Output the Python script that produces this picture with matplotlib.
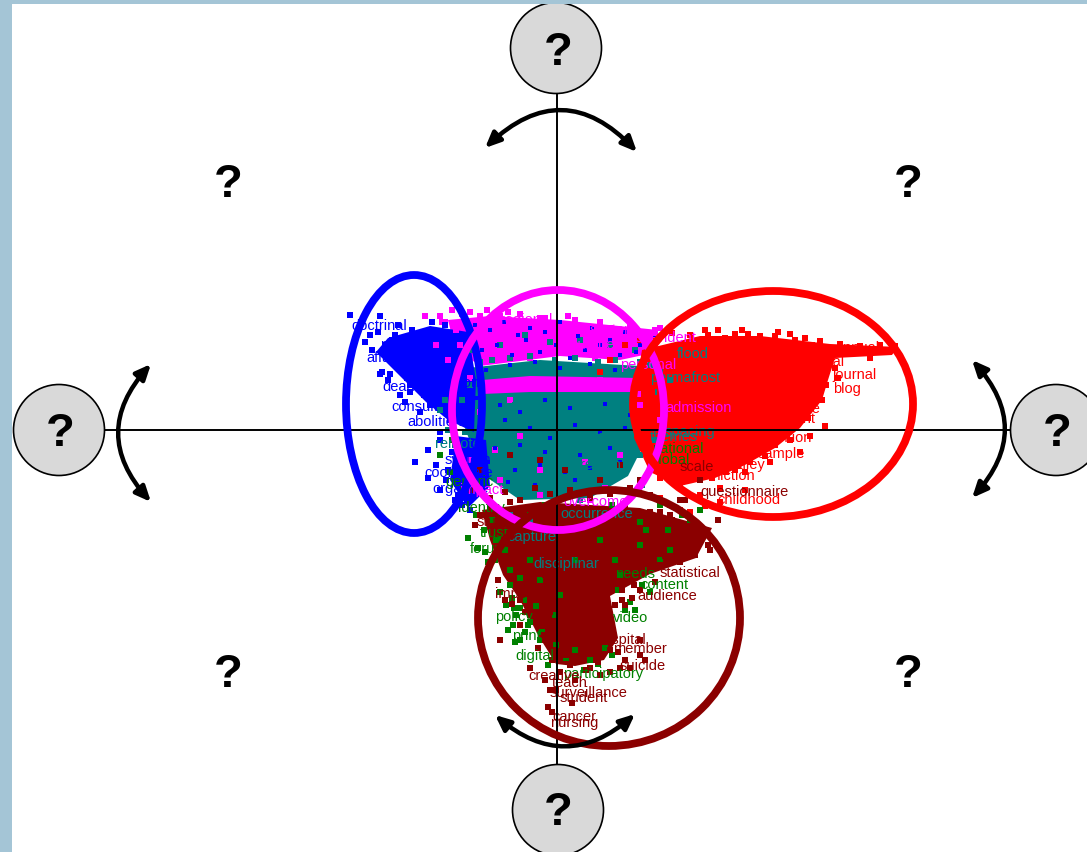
import matplotlib
matplotlib.use("Agg")
import matplotlib.pyplot as plt
from matplotlib.patches import Ellipse, Circle, FancyArrowPatch, Rectangle

plt.rcParams["font.family"] = ["Liberation Sans", "DejaVu Sans"]

# everything, in picture units (y down)
CENTER = (557, 430)
BLUE, MAGENTA, RED, DARK, GREEN, TEAL = "#0000FF", "#FF00FF", "#FF0000", "#8B0000", "#008000", "#008080"

# outlines of the areas where the marks merge into a solid mass
red_mass_x = [642, 700, 760, 830, 898, 892, 835, 828, 822, 800, 775, 745, 715, 680, 650, 634, 636]
red_mass_y = [350, 336, 336, 344, 347, 355, 358, 380, 400, 428, 448, 465, 478, 486, 472, 438, 385]
teal_mass_x = [468, 540, 640, 652, 640, 628, 590, 520, 482, 462]
teal_mass_y = [368, 360, 366, 410, 452, 476, 498, 500, 474, 420]
mag_mass_x = [448, 490, 560, 658, 658, 620, 560, 480, 455]
mag_mass_y = [320, 316, 320, 330, 352, 360, 356, 366, 348]
mag_band_x = [482, 530, 640, 640, 530, 482]
mag_band_y = [380, 376, 378, 392, 392, 394]
blue_mass_x = [388, 430, 468, 476, 474, 448, 426, 410, 394, 376]
blue_mass_y = [338, 326, 332, 380, 432, 420, 402, 386, 370, 352]
blue2_mass_x = [456, 486, 490, 468, 450]
blue2_mass_y = [436, 440, 486, 508, 480]
dark_mass_x = [482, 540, 640, 712, 696, 650, 610, 618, 604, 575, 556, 538, 520, 503, 490]
dark_mass_y = [510, 502, 508, 528, 558, 574, 596, 638, 660, 666, 664, 635, 600, 575, 540]

# single marks around the masses
blue_x = [350, 380, 365, 372, 392, 360, 380, 390, 388, 382, 400, 410, 405, 420, 430, 424, 415, 428, 440, 455, 462, 448,
          378, 385, 370, 395, 388, 402, 392, 410, 420, 398, 412, 432, 445, 440, 452, 436, 428, 446, 458, 470, 440, 450]
blue_y = [315, 316, 342, 350, 340, 325, 374, 374, 380, 372, 395, 385, 402, 412, 405, 395, 462, 478, 490, 500, 505, 470,
          332, 345, 335, 335, 358, 370, 350, 392, 382, 325, 330, 322, 325, 440, 452, 465, 450, 480, 495, 510, 432, 420]
blue_speck_x = [475, 490, 504, 518, 530, 545, 560, 578, 592, 610, 625, 640, 655, 482, 497, 512, 526, 540, 556, 570, 585, 600, 620, 636,
                486, 510, 535, 560, 590, 615, 476, 500, 520, 545, 570, 605, 630, 480, 505, 530, 550, 575, 600, 625, 470, 495, 520, 545, 580, 610,
                488, 515, 540, 565, 590, 620, 478, 508, 535, 575]
blue_speck_y = [325, 330, 322, 335, 328, 332, 322, 336, 328, 340, 332, 345, 338, 350, 345, 355, 340, 352, 345, 358, 350, 345, 355, 352,
                370, 365, 362, 368, 364, 370, 398, 405, 412, 400, 408, 404, 415, 425, 420, 428, 438, 425, 432, 428, 440, 448, 445, 452, 455, 448,
                462, 470, 465, 472, 468, 462, 478, 482, 485, 480]
magenta_x = [425, 440, 445, 452, 462, 470, 480, 487, 500, 520, 545, 575, 600, 630, 655, 436, 448, 470, 490, 512,
             530, 575, 600, 620, 638, 510, 520, 495, 480, 540, 585, 620, 640, 660, 605, 470, 500, 540, 590,
             442, 456, 475, 495, 508, 525, 540, 555, 568, 585, 610, 625, 645, 660, 460, 478, 500, 530, 550, 595, 615, 650]
magenta_y = [316, 316, 322, 310, 314, 312, 316, 310, 316, 314, 318, 320, 322, 326, 330, 345, 360, 378, 385, 385,
             388, 382, 380, 386, 394, 400, 436, 450, 412, 470, 462, 455, 405, 420, 488, 460, 480, 495, 500,
             322, 330, 325, 326, 312, 326, 318, 326, 316, 332, 328, 336, 340, 328, 345, 358, 354, 358, 352, 358, 360, 352]
red_x = [640, 655, 672, 690, 705, 718, 735, 748, 760, 775, 790, 805, 820, 840, 860, 880, 895, 650, 668, 700, 720,
         745, 770, 800, 690, 710, 735, 765, 790, 810, 825, 660, 680, 700, 730, 755, 780, 800, 815, 690, 715, 740, 765, 785,
         700, 730, 700, 720, 745, 650, 665, 680, 640, 660, 670, 680, 690, 705, 725, 640, 625, 610, 600,
         708, 725, 742, 756, 778, 795, 812, 830, 850, 870, 820, 835, 826, 838, 812, 822, 800, 808, 790, 782, 775, 760, 750, 738, 726, 712,
         692, 680, 660, 748, 770, 790, 765, 742, 720, 700, 780, 805]
red_y = [335, 340, 333, 335, 330, 330, 334, 334, 336, 336, 334, 338, 341, 344, 346, 345, 346, 468, 478, 480, 488,
         472, 462, 452, 462, 452, 470, 456, 440, 436, 426, 392, 404, 372, 352, 362, 372, 378, 385, 412, 405, 425, 400, 418,
         440, 438, 495, 502, 490, 450, 462, 488, 420, 498, 505, 510, 512, 506, 510, 340, 345, 360, 372,
         335, 338, 330, 342, 332, 340, 345, 362, 352, 358, 372, 368, 385, 378, 392, 400, 405, 418, 425, 432, 445, 452, 462, 466, 472, 478,
         478, 486, 478, 440, 425, 428, 398, 412, 395, 378, 412, 392]
dark_x = [475, 482, 490, 510, 530, 560, 590, 625, 650, 672, 690, 705, 718, 710, 660, 640, 625, 655, 600, 570, 545, 520, 505,
          498, 530, 555, 570, 590, 610, 625, 640, 600, 575, 545, 550, 548, 552, 556, 572, 590, 530, 520, 560, 500, 470, 640, 700,
          480, 510, 540, 565, 600, 620, 680, 500, 600, 640,
          512, 525, 540, 548, 562, 578, 592, 605, 615, 622, 632, 538, 552, 566, 582, 596, 608, 618, 630, 645, 528, 544, 560, 575, 590,
          648, 660, 672, 684, 696, 708, 665, 680, 695, 655, 670, 685, 610, 622, 634, 620, 610, 598, 586, 574, 562, 550,
          490, 505, 520, 535, 550, 570, 590, 610, 630, 650, 480, 500, 520, 545, 600, 625]
dark_y = [525, 515, 508, 502, 530, 555, 520, 505, 512, 520, 528, 535, 520, 550, 565, 590, 605, 582, 612, 625, 640, 625, 600,
          580, 615, 650, 665, 642, 650, 660, 655, 675, 680, 680, 690, 707, 712, 690, 703, 668, 668, 600, 620, 640, 490, 480, 480,
          470, 455, 460, 470, 480, 465, 500, 510, 620, 640,
          604, 612, 598, 630, 640, 630, 622, 612, 605, 600, 598, 648, 660, 655, 645, 660, 640, 652, 668, 660, 590, 635, 672, 660, 654,
          520, 512, 540, 525, 548, 545, 556, 562, 555, 530, 515, 500, 580, 590, 585, 668, 672, 662, 670, 640, 625, 612,
          498, 492, 500, 488, 494, 490, 498, 494, 488, 495, 515, 530, 560, 575, 578, 575]
green_x = [468, 478, 485, 488, 495, 510, 506, 514, 520, 513, 508, 515, 520, 525, 530, 540, 555, 548, 575, 590, 605, 625, 642, 660,
           668, 682, 700, 640, 615, 620, 600, 575, 560, 540, 530, 505, 496, 492, 450, 462, 476, 440, 452, 530, 545, 590, 612, 640,
           484, 498, 510, 520, 500, 512, 524, 536, 516, 528, 542, 556, 566, 584, 598, 612, 630, 650, 670, 690, 646, 660, 635, 618]
green_y = [538, 548, 552, 562, 560, 585, 605, 608, 608, 625, 630, 642, 640, 632, 622, 640, 615, 665, 650, 660, 648, 610, 585, 560,
           530, 515, 510, 522, 560, 575, 540, 560, 595, 580, 560, 550, 540, 520, 472, 490, 515, 455, 440, 515, 505, 525, 505, 545,
           530, 540, 570, 578, 592, 598, 600, 606, 615, 625, 632, 645, 658, 670, 664, 655, 602, 592, 550, 520, 530, 505, 610, 590]
teal_x = [470, 480, 500, 525, 550, 580, 610, 635, 650, 660, 670, 655, 440, 448, 455, 462, 470, 515, 640, 650, 580, 510, 530, 625, 642,
          462, 470, 480, 492, 510, 530, 555, 575, 598, 615, 640, 658, 465, 452, 445]
teal_y = [350, 362, 345, 335, 342, 340, 345, 350, 365, 372, 380, 440, 410, 430, 445, 462, 475, 405, 455, 470, 500, 515, 520, 490, 485,
          400, 385, 368, 360, 358, 356, 360, 358, 362, 360, 362, 392, 432, 420, 400]

blue_words = ["doctrinal", "affair", "legitimate", "deadly", "consult", "abolition", "coordinate", "organize", "party", "system", "coalition"]
blue_word_x = [351, 366, 403, 382, 391, 407, 424, 432, 380, 445, 425]
blue_word_y = [326, 358, 377, 387, 407, 422, 473, 489, 345, 460, 383]
magenta_words = ["independent", "personal", "admission", "overcome", "impact", "regional", "culture", "sector"]
magenta_word_x = [615, 620, 665, 563, 460, 500, 570, 590]
magenta_word_y = [338, 365, 408, 502, 490, 320, 345, 330]
teal_words = ["general", "sphere", "flood", "permafrost", "spacing", "themes", "disciplinar", "occurrence", "capture", "region", "remote"]
teal_word_x = [563, 575, 677, 650, 665, 650, 533, 560, 507, 580, 435]
teal_word_y = [415, 437, 354, 378, 432, 437, 564, 514, 537, 465, 444]
red_words = ["annual", "journal", "blog", "suitable", "talent", "attention", "sample", "valley", "fiction", "childhood", "mental"]
red_word_x = [835, 832, 833, 770, 780, 755, 758, 728, 717, 717, 800]
red_word_y = [348, 375, 389, 409, 419, 438, 454, 465, 476, 500, 362]
dark_words = ["questionnaire", "scale", "statistical", "audience", "surveillance", "student", "nursing", "cancer", "teach", "creative",
              "member", "suicide", "import", "study", "trust", "hospital"]
dark_word_x = [700, 680, 660, 637, 550, 560, 550, 552, 552, 528, 613, 620, 495, 477, 670, 595]
dark_word_y = [492, 467, 573, 596, 693, 698, 723, 717, 683, 676, 649, 666, 594, 522, 528, 640]
green_words = ["forum", "video", "digital", "participatory", "policy", "trust", "national", "global", "identity", "needs", "content", "print", "generic"]
green_word_x = [470, 613, 515, 563, 495, 480, 652, 650, 458, 615, 640, 512, 445]
green_word_y = [549, 618, 656, 674, 617, 533, 449, 460, 508, 574, 585, 636, 482]

corner_x = [228, 908, 228, 908]
corner_y = [185, 185, 675, 675]
circle_x = [556, 59, 1056, 558]
circle_y = [48, 430, 430, 810]
q_x = [558, 60, 1057, 558]
q_y = [53, 434, 434, 813]

fig = plt.figure(figsize=(10.87, 8.52), dpi=100, facecolor="#A4C5D6")
ax = fig.add_axes([12 / 1087, 0, 1 - 12 / 1087, 1 - 4 / 852])
ax.set_xlim(12, 1087)
ax.set_ylim(852, 4)
ax.axis("off")
ax.add_patch(Rectangle((12, 4), 1075, 848, color="white", zorder=0))

# solid masses
ax.fill(teal_mass_x, teal_mass_y, color=TEAL, lw=0, zorder=1)
ax.fill(mag_mass_x, mag_mass_y, color=MAGENTA, lw=0, zorder=1)
ax.fill(mag_band_x, mag_band_y, color=MAGENTA, lw=0, zorder=2)
ax.fill(blue_mass_x, blue_mass_y, color=BLUE, lw=0, zorder=1)
ax.fill(blue2_mass_x, blue2_mass_y, color=BLUE, lw=0, zorder=1)
ax.fill(red_mass_x, red_mass_y, color=RED, lw=0, zorder=2)
ax.fill(dark_mass_x, dark_mass_y, color=DARK, lw=0, zorder=2)

# marks
ax.scatter(magenta_x, magenta_y, s=18, marker="s", color=MAGENTA, linewidths=0, zorder=3)
ax.scatter(teal_x, teal_y, s=16, marker="s", color=TEAL, linewidths=0, zorder=3)
ax.scatter(blue_x, blue_y, s=16, marker="s", color=BLUE, linewidths=0, zorder=3)
ax.scatter(blue_speck_x, blue_speck_y, s=6, marker="s", color=BLUE, linewidths=0, zorder=3)
ax.scatter(red_x, red_y, s=24, marker="s", color=RED, linewidths=0, zorder=3)
ax.scatter(green_x, green_y, s=16, marker="s", color=GREEN, linewidths=0, zorder=3)
ax.scatter(dark_x, dark_y, s=16, marker="s", color=DARK, linewidths=0, zorder=3)

# words
groups = [(blue_words, blue_word_x, blue_word_y, BLUE), (magenta_words, magenta_word_x, magenta_word_y, MAGENTA),
          (teal_words, teal_word_x, teal_word_y, TEAL), (red_words, red_word_x, red_word_y, RED),
          (green_words, green_word_x, green_word_y, GREEN), (dark_words, dark_word_x, dark_word_y, DARK)]
for words, xs, ys, col in groups:
    for w, x, y in zip(words, xs, ys):
        ax.text(x, y, w, color=col, fontsize=10.5, ha="left", va="center", zorder=4)

# factor axes
ax.plot([104, 1010], [CENTER[1], CENTER[1]], color="black", lw=1.4, zorder=5)
ax.plot([CENTER[0], CENTER[0]], [95, 765], color="black", lw=1.4, zorder=5)

# cluster rings
ax.add_patch(Ellipse((414, 404), 136, 258, fill=False, ec=BLUE, lw=5.6, zorder=6))
ax.add_patch(Ellipse((558, 410), 212, 240, fill=False, ec=MAGENTA, lw=5.6, zorder=7))
ax.add_patch(Ellipse((773, 404), 280, 226, fill=False, ec=RED, lw=5.6, zorder=8))
ax.add_patch(Ellipse((609, 618), 262, 256, fill=False, ec=DARK, lw=5.6, zorder=8))

# rotation arrows
arrows = [((637, 152), (485, 148), 0.5), ((495, 715), (635, 714), 0.43),
          ((151, 364), (151, 502), 0.45), ((972, 498), (972, 360), 0.45)]
for a, b, rad in arrows:
    ax.add_patch(FancyArrowPatch(a, b, connectionstyle=f"arc3,rad={rad}", arrowstyle="<|-|>,head_length=9,head_width=4",
                                 color="black", lw=3.2, shrinkA=0, shrinkB=0, zorder=9))

# question marks
for x, y in zip(circle_x, circle_y):
    ax.add_patch(Circle((x, y), 45.5, fc="#D9D9D9", ec="black", lw=1.2, zorder=10))
for x, y in zip(q_x + corner_x, q_y + corner_y):
    ax.text(x, y, "?", fontsize=34, fontweight="bold", ha="center", va="center", color="black", zorder=11)

fig.savefig("out.png", dpi=100, facecolor=fig.get_facecolor())
